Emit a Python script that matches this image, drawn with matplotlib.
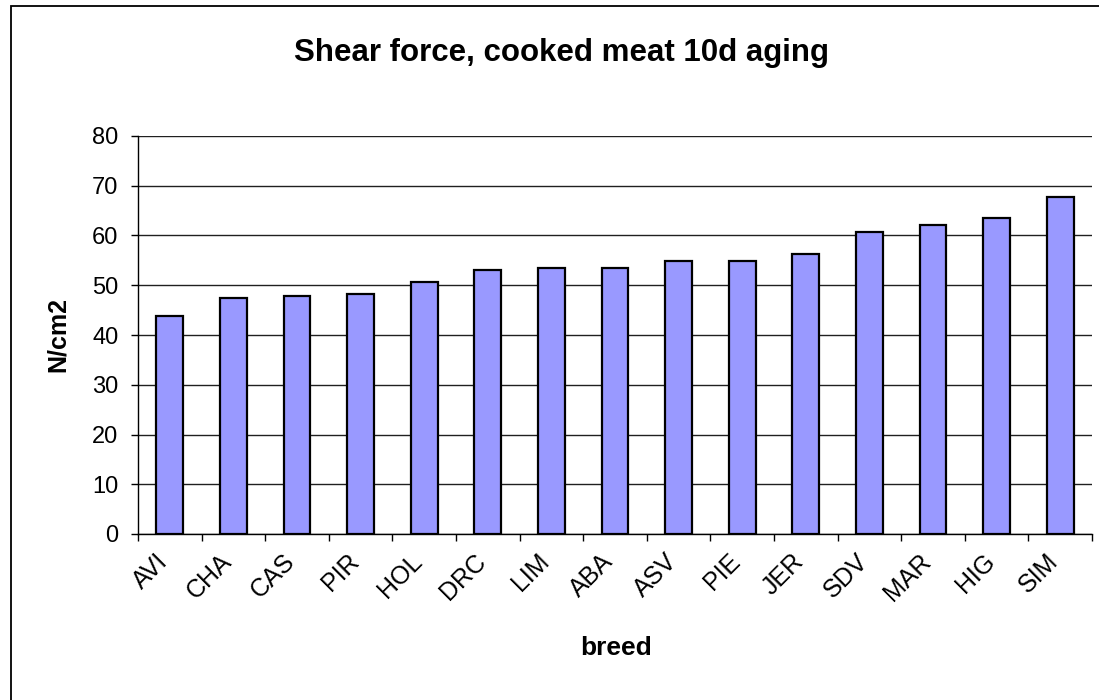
import matplotlib.pyplot as plt
import matplotlib.transforms as mtransforms
from matplotlib.patches import Rectangle

breeds = ["AVI", "CHA", "CAS", "PIR", "HOL", "DRC", "LIM", "ABA",
          "ASV", "PIE", "JER", "SDV", "MAR", "HIG", "SIM"]
shear_force = [43.9, 47.4, 47.8, 48.3, 50.6, 53.1, 53.5, 53.5,
               54.9, 54.9, 56.3, 60.7, 62.1, 63.5, 67.8]
y_ticks = [0, 10, 20, 30, 40, 50, 60, 70, 80]

plt.rcParams['font.family'] = ['Liberation Sans', 'DejaVu Sans']

W, H = 1099, 700
fig = plt.figure(figsize=(W / 100, H / 100), dpi=100)

# outer chart border (Excel style)
fig.patches.append(Rectangle((11 / W, -0.05), 1.1, 1 - 6 / H + 0.05,
                             transform=fig.transFigure, fill=False,
                             edgecolor='black', linewidth=1.3))

ax = fig.add_axes([138 / W, 1 - 534 / H, (1092 - 138) / W, (534 - 136) / H])

x = list(range(len(breeds)))
ax.bar(x, shear_force, width=0.42, color='#9999FF', edgecolor='black',
       linewidth=1.6, zorder=3)

ax.set_xlim(-0.5, len(breeds) - 0.5)
ax.set_ylim(0, 80)
ax.set_yticks(y_ticks)
ax.yaxis.grid(True, color='#202020', linewidth=1.0, zorder=0)
ax.set_axisbelow(True)

for side in ['top', 'right']:
    ax.spines[side].set_visible(False)
ax.spines['left'].set_linewidth(1.0)
ax.spines['bottom'].set_linewidth(1.0)

# ticks at category boundaries, labels at centres
ax.set_xticks([i - 0.5 for i in range(len(breeds) + 1)])
ax.set_xticklabels([])
ax.set_xticks(x, minor=True)
ax.set_xticklabels(breeds, minor=True, rotation=45, ha='right',
                   rotation_mode='anchor', fontsize=18)
ax.tick_params(axis='x', which='major', direction='out', length=5, width=1)
ax.tick_params(axis='x', which='minor', length=0, pad=11)
ax.tick_params(axis='y', direction='out', length=5, width=1, pad=9,
               labelsize=17)

# shift rotated labels a bit to the left, like Excel does
shift = mtransforms.ScaledTranslation(-0.14, 0, fig.dpi_scale_trans)
for lbl in ax.get_xticklabels(minor=True):
    lbl.set_transform(lbl.get_transform() + shift)

ax.set_xlabel("breed", fontsize=19, fontweight='bold')
ax.xaxis.set_label_coords(0.501, (534 - 636) / 398)
ax.set_ylabel("N/cm2", fontsize=18, fontweight='bold')
ax.yaxis.set_label_coords((70 - 138) / 954, 0.5)

fig.text(562 / W, 1 - 61 / H, "Shear force, cooked meat 10d aging",
         ha='center', va='baseline', fontsize=22.5, fontweight='bold')

fig.savefig("out.png", dpi=100)
